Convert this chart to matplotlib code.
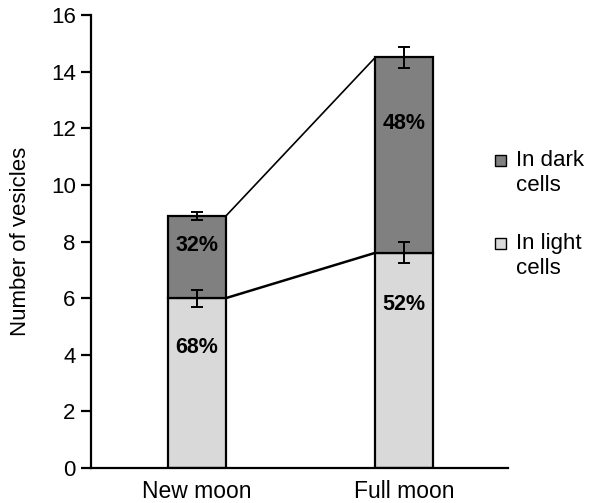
import numpy as np
import matplotlib.pyplot as plt
from matplotlib.patches import Rectangle

plt.rcParams['font.family'] = ['Liberation Sans', 'DejaVu Sans']

categories = ['New moon', 'Full moon']
light = [6.0, 7.6]
dark_top = [8.9, 14.5]
light_err = [0.3, 0.37]
dark_err = [0.15, 0.37]
light_pct = ['68%', '52%']
dark_pct = ['32%', '48%']
legend_labels = ['In dark\ncells', 'In light\ncells']

x = np.arange(len(categories))
w = 0.28
dark = [t - l for t, l in zip(dark_top, light)]

W, H = 595, 503
fig = plt.figure(figsize=(W / 100, H / 100), dpi=100)
ax = fig.add_axes([91 / W, 1 - 468 / H, (508 - 91) / W, (468 - 15) / H])

ax.bar(x, light, w, color='#d9d9d9', edgecolor='black', linewidth=1.6, zorder=2)
ax.bar(x, dark, w, bottom=light, color='#808080', edgecolor='black', linewidth=1.6, zorder=2)
ax.errorbar(x, light, yerr=light_err, fmt='none', ecolor='black', capsize=4, elinewidth=1.4, capthick=1.4, zorder=3)
ax.errorbar(x, dark_top, yerr=dark_err, fmt='none', ecolor='black', capsize=4, elinewidth=1.4, capthick=1.4, zorder=3)

# connecting lines between bars
ax.plot([x[0] + w / 2, x[1] - w / 2], [dark_top[0], dark_top[1]], color='black', lw=1.2, zorder=1)
ax.plot([x[0] + w / 2, x[1] - w / 2], [light[0], light[1]], color='black', lw=1.8, zorder=1)

light_frac = [0.71, 0.76]
dark_frac = [0.64, 0.66]
for i in range(len(x)):
    ax.text(x[i], light[i] * light_frac[i], light_pct[i], ha='center', va='center',
            fontsize=15.5, fontweight='bold')
    ax.text(x[i], light[i] + dark[i] * dark_frac[i], dark_pct[i], ha='center', va='center',
            fontsize=15.5, fontweight='bold')

ax.set_xlim(-0.51, 1.50)
ax.set_ylim(0, 16)
ax.set_yticks(range(0, 17, 2))
ax.set_xticks(x)
ax.set_xticklabels(categories, fontsize=16.5)
ax.tick_params(axis='y', labelsize=16, length=7, width=1.6, direction='out', pad=4)
ax.tick_params(axis='x', length=0, pad=9)
ax.spines['top'].set_visible(False)
ax.spines['right'].set_visible(False)
ax.spines['left'].set_linewidth(1.6)
ax.spines['bottom'].set_linewidth(1.6)
ax.set_ylabel('Number of vesicles', fontsize=16, labelpad=14)

# legend drawn manually so the swatch sits beside the first text line
colors = ['#808080', '#d9d9d9']
tops = [153, 236]
for lab, col, top in zip(legend_labels, colors, tops):
    fig.add_artist(Rectangle((495 / W, 1 - (top + 13) / H), 11 / W, 11 / H,
                             transform=fig.transFigure, facecolor=col,
                             edgecolor='black', linewidth=1.0))
    fig.text(516 / W, 1 - (top - 3) / H, lab, ha='left', va='top', fontsize=16,
             linespacing=1.25)

fig.savefig('out.png', dpi=100)
